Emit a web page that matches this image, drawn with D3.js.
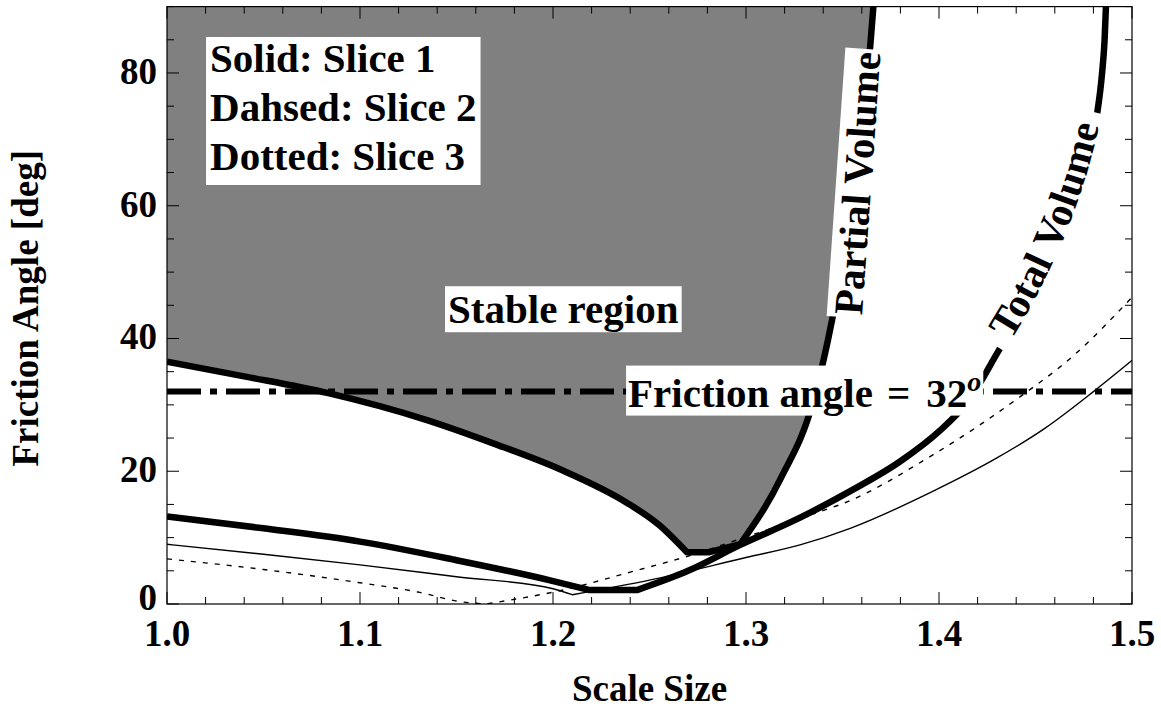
<!DOCTYPE html>
<html><head><meta charset="utf-8">
<script src="https://cdn.jsdelivr.net/npm/d3@7"></script>
<style>
body{margin:0;background:#fff}
text{font-family:"Liberation Serif","Times New Roman",serif;font-weight:bold;fill:#000}
</style>
</head><body>
<svg id="chart" width="1161" height="710"></svg>
<script>
// ---------- data ----------
const xTickValues = [1.0, 1.1, 1.2, 1.3, 1.4, 1.5];
const xTickLabels = ["1.0", "1.1", "1.2", "1.3", "1.4", "1.5"];
const yTickValues = [0, 20, 40, 60, 80];
const yTickLabels = ["0", "20", "40", "60", "80"];

// boundary of stable region (slice 1) + partial volume branch
const boundaryX = [1.0, 1.04, 1.083, 1.1347, 1.169, 1.2036, 1.238, 1.255, 1.2694, 1.281, 1.297, 1.3176, 1.335, 1.3446, 1.352, 1.358, 1.362, 1.3645, 1.366];
const boundaryY = [36.5, 34.3, 31.8, 27.7, 24.2, 20.3, 15.3, 11.9, 7.8, 7.8, 9.0, 18.7, 30.7, 42.8, 55, 67, 77, 84.5, 90];

// total volume, slice 1 (thick)
const totalX = [1.0, 1.05, 1.1, 1.15, 1.198, 1.219, 1.2435, 1.27, 1.297, 1.328, 1.354, 1.38, 1.40, 1.415, 1.4316, 1.445, 1.457, 1.467, 1.475, 1.482, 1.4845, 1.4858, 1.4865];
const totalY = [13.2, 11.4, 9.4, 6.6, 3.6, 2.1, 2.1, 5.0, 8.9, 13.0, 17.0, 21.5, 26.0, 30.5, 38.5, 45.0, 52.0, 59.0, 66.0, 74.0, 80.0, 85.0, 90.0];

// thin solid
const thinSolidX = [1.0, 1.05, 1.1, 1.15, 1.2, 1.21, 1.25, 1.3, 1.328, 1.354, 1.397, 1.43, 1.455, 1.48, 1.5];
const thinSolidY = [9.0, 7.5, 5.9, 4.1, 2.3, 1.4, 3.6, 7.0, 8.9, 11.4, 17.0, 22.0, 26.5, 32.0, 36.7];

// thin dashed
const thinDashedX = [1.0, 1.05, 1.1, 1.13, 1.152, 1.165, 1.184, 1.2036, 1.24, 1.271, 1.3, 1.338, 1.349, 1.397, 1.44, 1.47, 1.5];
const thinDashedY = [6.8, 5.2, 3.2, 1.8, 0.35, 0.0, 0.9, 2.0, 4.8, 7.3, 10.1, 13.9, 15.0, 22.5, 30.8, 37.5, 46.2];

const frictionAngle = 32;
const legendLines = ["Solid: Slice 1", "Dahsed: Slice 2", "Dotted: Slice 3"];

// ---------- layout ----------
const svg = d3.select("#chart");
const x = d3.scaleLinear().domain([1.0, 1.5]).range([167, 1132]);
const y = d3.scaleLinear().domain([0, 90]).range([604, 6.6]);
const zip = (xs, ys) => xs.map((v, i) => [v, ys[i]]);

svg.append("defs").append("clipPath").attr("id", "plotclip")
  .append("rect").attr("x", x(1.0)).attr("y", y(90)).attr("width", x(1.5) - x(1.0)).attr("height", y(0) - y(90));

const plot = svg.append("g").attr("clip-path", "url(#plotclip)");

const mono = d3.line().x(d => x(d[0])).y(d => y(d[1])).curve(d3.curveMonotoneX);
// smooth piecewise path that keeps the sharp corners of the data (split at kinks)
function pieceLine(pts) {
  const breaks = [0];
  for (let i = 1; i < pts.length - 1; i++) {
    const s1 = (pts[i][1] - pts[i - 1][1]) / (pts[i][0] - pts[i - 1][0]);
    const s2 = (pts[i + 1][1] - pts[i][1]) / (pts[i + 1][0] - pts[i][0]);
    if (s1 * s2 <= 0 || (s1 > 0 && s2 / s1 > 3.5)) breaks.push(i);
  }
  breaks.push(pts.length - 1);
  let d = "";
  for (let k = 0; k < breaks.length - 1; k++) {
    const seg = mono(pts.slice(breaks[k], breaks[k + 1] + 1));
    d += k === 0 ? seg : "L" + seg.slice(1);
  }
  return d;
}

const boundary = zip(boundaryX, boundaryY);
const total = zip(totalX, totalY);

// gray stable region
plot.append("path")
  .attr("d", pieceLine(boundary) + `L${x(boundaryX[boundaryX.length - 1])},${y(90) - 5}L${x(1.0) - 5},${y(90) - 5}Z`)
  .attr("fill", "#808080");

// thin curves
plot.append("path").attr("d", pieceLine(zip(thinSolidX, thinSolidY)))
  .attr("fill", "none").attr("stroke", "#000").attr("stroke-width", 1.4);
plot.append("path").attr("d", pieceLine(zip(thinDashedX, thinDashedY)))
  .attr("fill", "none").attr("stroke", "#000").attr("stroke-width", 1.4).attr("stroke-dasharray", "5,7");

// thick curves
plot.append("path").attr("d", pieceLine(total))
  .attr("fill", "none").attr("stroke", "#000").attr("stroke-width", 6.5).attr("stroke-linejoin", "round");
plot.append("path").attr("d", pieceLine(boundary))
  .attr("fill", "none").attr("stroke", "#000").attr("stroke-width", 6.5).attr("stroke-linejoin", "round");

// friction angle line
plot.append("line")
  .attr("x1", x(1.0)).attr("x2", x(1.5)).attr("y1", y(frictionAngle)).attr("y2", y(frictionAngle))
  .attr("stroke", "#000").attr("stroke-width", 6).attr("stroke-dasharray", "34,9,7,9");

// ---------- frame and ticks ----------
const frame = svg.append("g");
frame.append("rect").attr("x", x(1.0)).attr("y", y(90)).attr("width", x(1.5) - x(1.0)).attr("height", y(0) - y(90))
  .attr("fill", "none").attr("stroke", "#000").attr("stroke-width", 1.2);

const xMinor = d3.range(0, 26).map(i => 1.0 + i * 0.02);
const yMinor = d3.range(0, 19).map(i => i * 5);
const isMajorX = v => Math.abs(v * 10 - Math.round(v * 10)) < 1e-6;
const isMajorY = v => v % 20 === 0;

xMinor.forEach(v => {
  const L = isMajorX(v) ? 12 : 7;
  frame.append("line").attr("x1", x(v)).attr("x2", x(v)).attr("y1", y(0)).attr("y2", y(0) - L).attr("stroke", "#000").attr("stroke-width", 1);
  frame.append("line").attr("x1", x(v)).attr("x2", x(v)).attr("y1", y(90)).attr("y2", y(90) + L).attr("stroke", "#000").attr("stroke-width", 1);
});
yMinor.forEach(v => {
  const L = isMajorY(v) ? 12 : 7;
  frame.append("line").attr("x1", x(1.0)).attr("x2", x(1.0) + L).attr("y1", y(v)).attr("y2", y(v)).attr("stroke", "#000").attr("stroke-width", 1);
  frame.append("line").attr("x1", x(1.5)).attr("x2", x(1.5) - L).attr("y1", y(v)).attr("y2", y(v)).attr("stroke", "#000").attr("stroke-width", 1);
});

// tick labels
xTickValues.forEach((v, i) => {
  svg.append("text").attr("x", x(v)).attr("y", y(0) + 42).attr("text-anchor", "middle")
    .attr("font-size", 37).text(xTickLabels[i]);
});
yTickValues.forEach((v, i) => {
  svg.append("text").attr("x", x(1.0) - 10).attr("y", y(v) + (v === 0 ? 6 : 11)).attr("text-anchor", "end")
    .attr("font-size", 37).text(yTickLabels[i]);
});

// axis titles
svg.append("text").attr("x", (x(1.0) + x(1.5)) / 2).attr("y", 701).attr("text-anchor", "middle")
  .attr("font-size", 37).text("Scale Size");
svg.append("text").attr("transform", `translate(38,${(y(0) + y(90)) / 2 + 3}) rotate(-90)`)
  .attr("text-anchor", "middle").attr("font-size", 37).text("Friction Angle [deg]");

// ---------- annotations ----------
function boxedText(g, pad) {
  const bb = g.node().getBBox();
  g.insert("rect", ":first-child")
    .attr("x", bb.x - pad[0]).attr("y", bb.y - pad[1] + (pad[2] || 0))
    .attr("width", bb.width + 2 * pad[0]).attr("height", bb.height + 2 * pad[1])
    .attr("fill", "#fff");
}

// legend
const leg = svg.append("g");
legendLines.forEach((t, i) => {
  leg.append("text").attr("x", x(1.0223)).attr("y", y(80.15) + i * 49).attr("font-size", 41).text(t);
});
boxedText(leg, [4, 2, 4]);

// stable region
const st = svg.append("g");
st.append("text").attr("x", x(1.1456)).attr("y", y(42.3)).attr("font-size", 41).text("Stable region");
boxedText(st, [3, 0]);

// friction label
const fl = svg.append("g");
const ft = fl.append("text").attr("x", x(1.2389)).attr("y", y(frictionAngle) + 15).attr("font-size", 41);
ft.append("tspan").text("Friction angle");
ft.append("tspan").attr("dx", 14).text("=");
ft.append("tspan").attr("dx", 16).text("32");
ft.append("tspan").attr("font-style", "italic").attr("font-size", 28).attr("dy", -16).text("o");
boxedText(fl, [2, 0]);

// partial volume label (straight, rotated)
const pv = svg.append("g").attr("transform", `translate(${x(1.3575)},${y(63.4)}) rotate(-86)`);
const pvt = pv.append("text").attr("x", 0).attr("y", 0).attr("dy", "0.35em").attr("text-anchor", "middle")
  .attr("font-size", 41).text("Partial Volume");
const pvw = pvt.node().getComputedTextLength();
pv.insert("rect", "text").attr("x", -pvw / 2 - 3).attr("y", -21).attr("width", pvw + 6).attr("height", 42).attr("fill", "#fff");

// total volume label along the curve
const labelSeg = total.filter(d => d[1] >= 38 && d[1] <= 75);
const segPath = mono(labelSeg);
svg.select("defs").append("path").attr("id", "tvpath").attr("d", segPath);
svg.append("path").attr("d", segPath).attr("fill", "none").attr("stroke", "#fff").attr("stroke-width", 14);
svg.append("text").attr("font-size", 41).attr("dy", "0.12em")
  .append("textPath").attr("href", "#tvpath").attr("startOffset", "50%").attr("text-anchor", "middle")
  .text("Total Volume");
</script>
</body></html>
